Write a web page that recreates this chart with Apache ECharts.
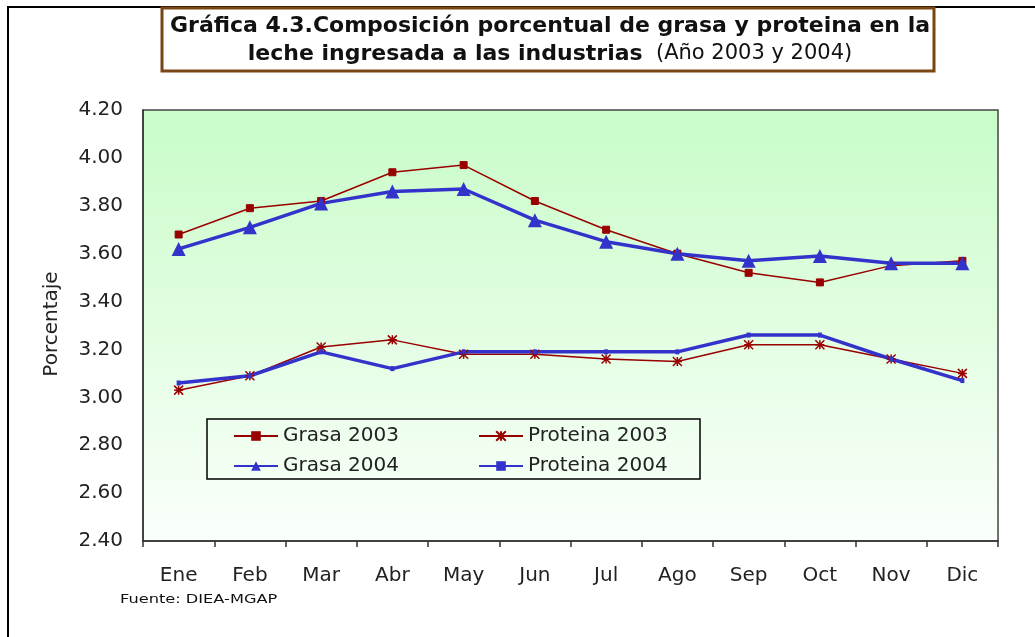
<!DOCTYPE html>
<html><head><meta charset="utf-8">
<script src="https://cdn.jsdelivr.net/npm/echarts@6/dist/echarts.min.js"></script>
<style>html,body{margin:0;padding:0;background:#fff}#c{width:1035px;height:637px}</style>
</head><body><div id="c"></div>
<script>
const months = ['Ene','Feb','Mar','Abr','May','Jun','Jul','Ago','Sep','Oct','Nov','Dic'];
const grasa2003 = [3.68,3.79,3.82,3.94,3.97,3.82,3.70,3.60,3.52,3.48,3.55,3.57];
const grasa2004 = [3.62,3.71,3.81,3.86,3.87,3.74,3.65,3.60,3.57,3.59,3.56,3.56];
const proteina2003 = [3.03,3.09,3.21,3.24,3.18,3.18,3.16,3.15,3.22,3.22,3.16,3.10];
const proteina2004 = [3.06,3.09,3.19,3.12,3.19,3.19,3.19,3.19,3.26,3.26,3.16,3.07];
const yTicks = {min:2.4, max:4.2, interval:0.2};

const RED = '#990000', BLUE = '#3333cc';
const FONT = 'DejaVu Sans';
const asterisk = 'path://M0,0L10,10M10,0L0,10M5,0L5,10M0,5L10,5';
const squareMk = 'path://M0,0L10,0L10,10L0,10Z';

const chart = echarts.init(document.getElementById('c'), null, {renderer:'canvas'});
const legendBase = {orient:'horizontal', itemWidth:44, itemHeight:12, itemGap:4, padding:0,
  textStyle:{fontFamily:FONT, fontSize:20, color:'#222'}, selectedMode:false};
chart.setOption({
  animation:false,
  graphic:[
    {type:'rect', shape:{x:8,y:7,width:1100,height:700}, style:{fill:'none', stroke:'#000', lineWidth:2}, silent:true},
    {type:'rect', shape:{x:162,y:8,width:772,height:63}, style:{fill:'#fff', stroke:'#7a4714', lineWidth:3}, silent:true},
    {type:'text', x:550, y:12, style:{
      text:'{b|Gráfica 4.3.Composición porcentual de grasa y proteina en la}\n{b|leche ingresada a las industrias}{n|  (Año 2003 y 2004)}',
      align:'center', fill:'#111', lineHeight:28,
      rich:{b:{fontFamily:'DejaVu Sans', fontWeight:'bold', fontSize:22, lineHeight:28, fill:'#111'},
            n:{fontFamily:'DejaVu Sans', fontSize:21, lineHeight:28, fill:'#111'}}}},
    {type:'text', x:52, y:324, rotation:Math.PI/2, style:{text:'Porcentaje', align:'center', verticalAlign:'middle', fontFamily:FONT, fontSize:20, fill:'#222'}},
    {type:'text', x:120, y:594, scaleX:1.35, style:{text:'Fuente: DIEA-MGAP', fontFamily:FONT, fontSize:12, fill:'#111'}},
    {type:'rect', shape:{x:207,y:419,width:493,height:60}, style:{fill:'rgba(0,0,0,0)', stroke:'#000', lineWidth:1.5}, silent:true, z:100}
  ],
  legend:[
    Object.assign({data:['Grasa 2003'], left:233, top:426}, legendBase),
    Object.assign({data:['Proteina 2003'], left:478, top:426}, legendBase),
    Object.assign({data:['Grasa 2004'], left:233, top:456}, legendBase),
    Object.assign({data:['Proteina 2004'], left:478, top:456}, legendBase)
  ],
  grid:{left:143, top:110, width:855, height:431, show:true, borderColor:'#444', borderWidth:1.5,
    backgroundColor:new echarts.graphic.LinearGradient(0,0,0,1,[{offset:0,color:'#c8fcc8'},{offset:1,color:'#fbfffb'}])},
  xAxis:{type:'category', data:months, boundaryGap:true,
    axisLine:{lineStyle:{color:'#333', width:1.5}},
    axisTick:{show:true, length:6, inside:false, lineStyle:{color:'#333', width:1.5}},
    axisLabel:{fontFamily:FONT, fontSize:20, color:'#222', margin:25}},
  yAxis:{type:'value', min:yTicks.min, max:yTicks.max, interval:yTicks.interval,
    axisLine:{show:true, lineStyle:{color:'#333', width:1.5}},
    axisTick:{show:false}, splitLine:{show:false},
    axisLabel:{fontFamily:FONT, fontSize:20, color:'#222', margin:20, formatter:v=>v.toFixed(2)}},
  series:[
    {name:'Grasa 2003', type:'line', data:grasa2003, color:RED, symbol:squareMk, symbolSize:7,
      lineStyle:{color:RED, width:1.5}, itemStyle:{color:RED, borderColor:RED}},
    {name:'Grasa 2004', type:'line', data:grasa2004, color:BLUE, symbol:'triangle', symbolSize:14,
      lineStyle:{color:BLUE, width:3.5}, itemStyle:{color:BLUE}},
    {name:'Proteina 2003', type:'line', data:proteina2003, color:RED, symbol:asterisk, symbolSize:9,
      lineStyle:{color:RED, width:1.5}, itemStyle:{color:'none', borderColor:RED, borderWidth:1.5}},
    {name:'Proteina 2004', type:'line', data:proteina2004, color:BLUE, symbol:'rect', symbolSize:[4,5],
      lineStyle:{color:BLUE, width:3.5}, itemStyle:{color:BLUE}}
  ]
});
</script></body></html>
